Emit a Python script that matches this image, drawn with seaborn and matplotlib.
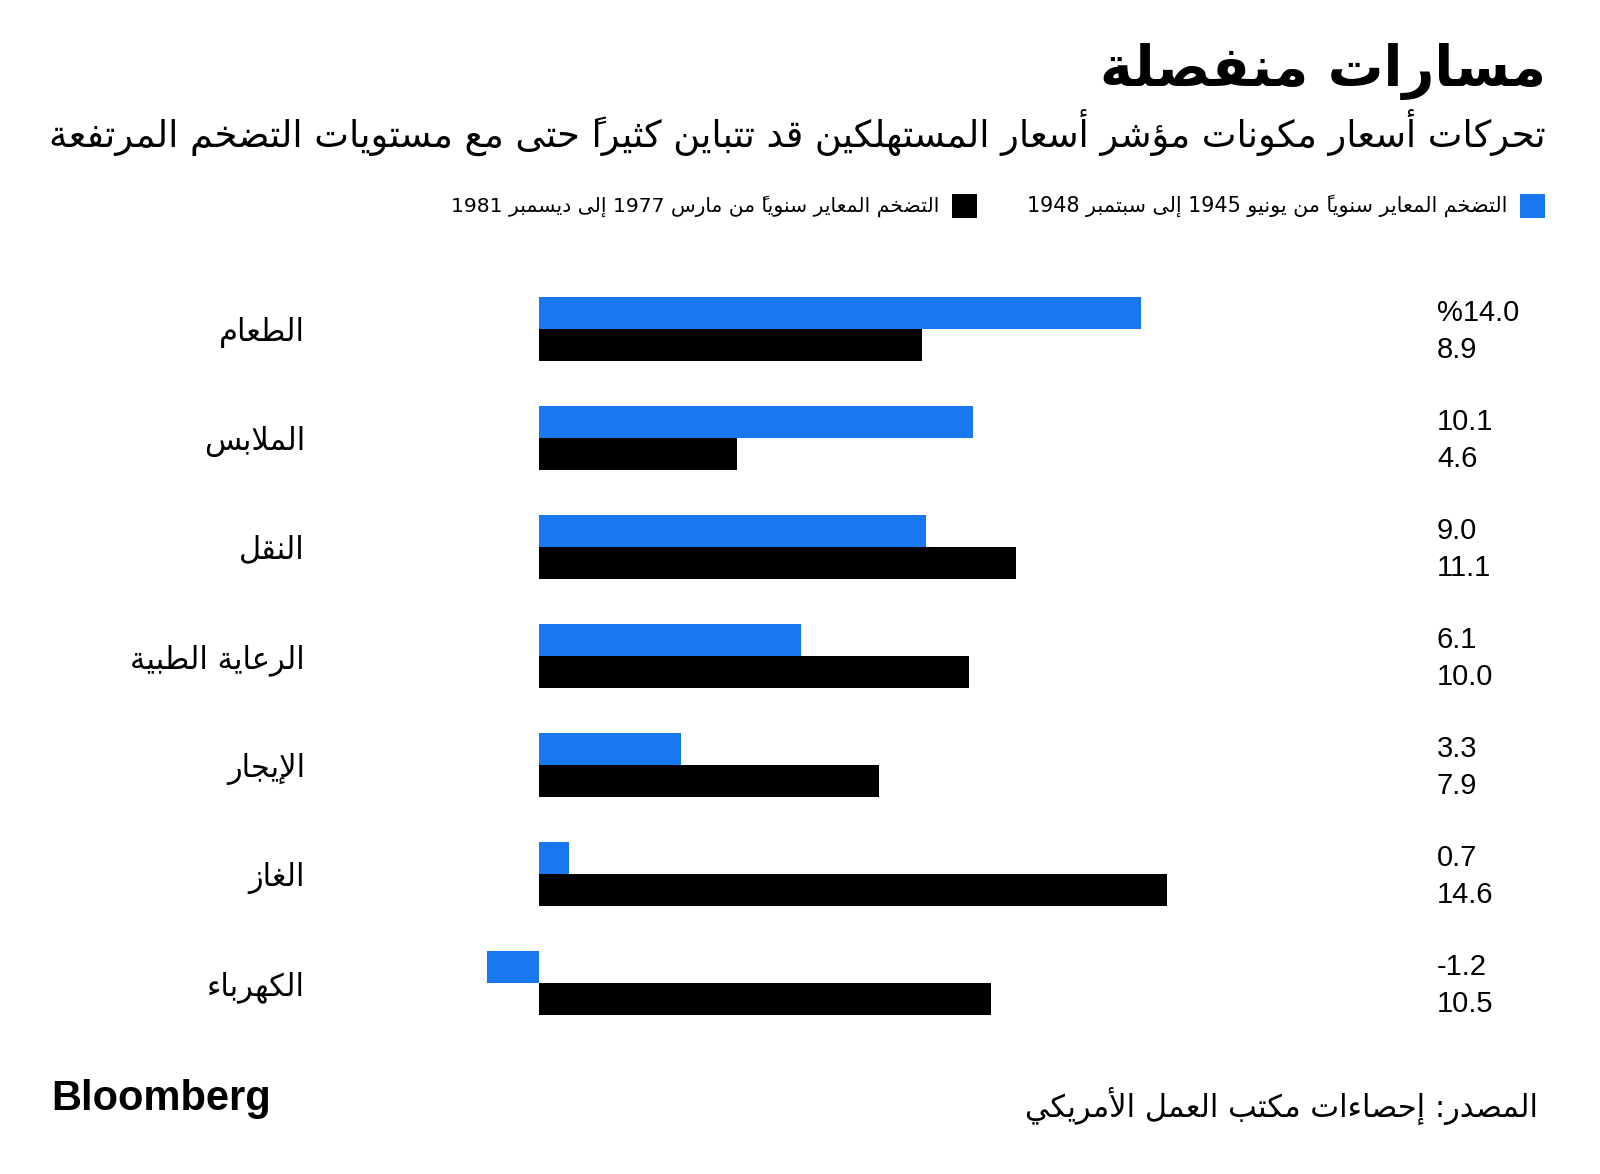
import matplotlib
matplotlib.use("Agg")
import matplotlib.pyplot as plt
import matplotlib.transforms as mtransforms
from matplotlib.patches import Rectangle
import pandas as pd
import seaborn as sns

# ---------------- data ----------------
categories = ["الطعام", "الملابس", "النقل", "الرعاية الطبية", "الإيجار", "الغاز", "الكهرباء"]
values_1945_1948 = [14.0, 10.1, 9.0, 6.1, 3.3, 0.7, -1.2]
values_1977_1981 = [8.9, 4.6, 11.1, 10.0, 7.9, 14.6, 10.5]
labels_1945_1948 = ["%14.0", "10.1", "9.0", "6.1", "3.3", "0.7", "-1.2"]
labels_1977_1981 = ["8.9", "4.6", "11.1", "10.0", "7.9", "14.6", "10.5"]
series_names = ["التضخم المعاير سنوياً من يونيو 1945 إلى سبتمبر 1948",
                "التضخم المعاير سنوياً من مارس 1977 إلى ديسمبر 1981"]
title_text = "مسارات منفصلة"
subtitle_text = "تحركات أسعار مكونات مؤشر أسعار المستهلكين قد تتباين كثيراً حتى مع مستويات التضخم المرتفعة"
source_text = "المصدر: إحصاءات مكتب العمل الأمريكي"
brand_text = "Bloomberg"

BLUE = "#1778F2"
BLACK = "#000000"

# ---------------- Arabic shaping (matplotlib has no complex text layout) ----------------
_AR_FORMS = {}
for _ch, _base, _n in [
        ("ء", 0xFE80, 1), ("آ", 0xFE81, 2), ("أ", 0xFE83, 2), ("ؤ", 0xFE85, 2),
        ("إ", 0xFE87, 2), ("ئ", 0xFE89, 4), ("ا", 0xFE8D, 2), ("ب", 0xFE8F, 4),
        ("ة", 0xFE93, 2), ("ت", 0xFE95, 4), ("ث", 0xFE99, 4), ("ج", 0xFE9D, 4),
        ("ح", 0xFEA1, 4), ("خ", 0xFEA5, 4), ("د", 0xFEA9, 2), ("ذ", 0xFEAB, 2),
        ("ر", 0xFEAD, 2), ("ز", 0xFEAF, 2), ("س", 0xFEB1, 4), ("ش", 0xFEB5, 4),
        ("ص", 0xFEB9, 4), ("ض", 0xFEBD, 4), ("ط", 0xFEC1, 4), ("ظ", 0xFEC5, 4),
        ("ع", 0xFEC9, 4), ("غ", 0xFECD, 4), ("ف", 0xFED1, 4), ("ق", 0xFED5, 4),
        ("ك", 0xFED9, 4), ("ل", 0xFEDD, 4), ("م", 0xFEE1, 4), ("ن", 0xFEE5, 4),
        ("ه", 0xFEE9, 4), ("و", 0xFEED, 2), ("ى", 0xFEEF, 2), ("ي", 0xFEF1, 4)]:
    _AR_FORMS[_ch] = (_base, _n)
_LAM_ALEF = {"آ": 0xFEF5, "أ": 0xFEF7, "إ": 0xFEF9, "ا": 0xFEFB}


def _is_mark(c):
    return "\u064B" <= c <= "\u0652" or c == "\u0670"


def _shape_word(w):
    items = []
    i = 0
    while i < len(w):
        c = w[i]
        if _is_mark(c) and items:
            items[-1][2].append(c)
            i += 1
            continue
        if c == "ل" and i + 1 < len(w) and w[i + 1] in _LAM_ALEF:
            items.append([c, "R", [], _LAM_ALEF[w[i + 1]]])
            i += 2
            continue
        if c in _AR_FORMS:
            base, n = _AR_FORMS[c]
            t = "D" if n == 4 else ("R" if n == 2 else "U")
            items.append([c, t, [], base])
        else:
            items.append([c, "U", [], None])
        i += 1
    out = []
    for k, (c, t, marks, base) in enumerate(items):
        prev_t = items[k - 1][1] if k > 0 else "U"
        next_t = items[k + 1][1] if k + 1 < len(items) else "U"
        jp = t in ("D", "R") and prev_t == "D"
        jn = t == "D" and next_t in ("D", "R")
        if base is None:
            g = c
        elif t == "D":
            g = chr(base + (3 if (jp and jn) else 1 if jp else 2 if jn else 0))
        elif t == "R":
            g = chr(base + (1 if jp else 0))
        else:
            g = chr(base)
        # zero-width marks are drawn over the glyph that follows them visually
        out.append("".join(marks) + g)
    return "".join(reversed(out))


def ar(text):
    res = []
    for tok in text.split(" "):
        if any("\u0600" <= c <= "\u06FF" for c in tok):
            res.append(_shape_word(tok))
        else:
            res.append(tok)
    return " ".join(reversed(res))


# ---------------- figure ----------------
sns.set_theme(style="white")
plt.rcParams["font.family"] = ["DejaVu Sans"]

W, H = 1600, 1174
fig = plt.figure(figsize=(W / 100, H / 100), dpi=100)
fig.patch.set_facecolor("white")


def fx(x):
    return x / W


def fy(y):
    return 1 - y / H


# axes: x from -2 to 16 (43 px/unit), y categories spaced 109 px
ax_left, ax_right = 453, 1227
ax_top, ax_bottom = 274.5, 1037.5
ax = fig.add_axes([fx(ax_left), fy(ax_bottom), (ax_right - ax_left) / W, (ax_bottom - ax_top) / H])

df = pd.DataFrame({
    "category": categories * 2,
    "series": [series_names[0]] * len(categories) + [series_names[1]] * len(categories),
    "value": values_1945_1948 + values_1977_1981,
})

sns.barplot(data=df, y="category", x="value", hue="series", order=categories,
            hue_order=series_names, palette=[BLUE, BLACK], orient="h",
            width=0.587, gap=0, saturation=1, legend=False, ax=ax, linewidth=0)

ax.set_xlim(-2, 16)
ax.set_ylim(len(categories) - 0.5, -0.5)
for s in ax.spines.values():
    s.set_visible(False)
ax.set_xticks([])
ax.set_xlabel("")
ax.set_ylabel("")
ax.set_yticks(range(len(categories)))
ax.set_yticklabels([ar(c) for c in categories], fontsize=22, color="black")
for lbl in ax.get_yticklabels():
    lbl.set_verticalalignment("center_baseline")
ax.tick_params(axis="y", length=0, pad=(ax_left - 305) * 0.72)
ax.set_facecolor("white")

# value labels on the right
trans = mtransforms.blended_transform_factory(fig.transFigure, ax.transData)
for container, labels in zip(ax.containers, [labels_1945_1948, labels_1977_1981]):
    for bar, lab in zip(container, labels):
        yc = bar.get_y() + bar.get_height() / 2
        yg = round(yc)
        ax.text(fx(1437), yg + 1.16 * (yc - yg) + 0.024, lab, transform=trans,
                ha="left", va="center", fontsize=21, family="Liberation Sans", color="black")

# title / subtitle
fig.text(fx(1546), fy(86), ar(title_text), ha="right", va="baseline",
         fontsize=40, fontweight="bold", color="black")
fig.text(fx(1546), fy(147), ar(subtitle_text), ha="right", va="baseline",
         fontsize=26.5, color="black")

# legend (right-to-left)
fig.add_artist(Rectangle((fx(1520), fy(218)), 25 / W, 24 / H, transform=fig.transFigure,
                         facecolor=BLUE, edgecolor="none"))
fig.text(fx(1507), fy(212), ar(series_names[0]), ha="right", va="baseline",
         fontsize=14.9, color="black")
fig.add_artist(Rectangle((fx(952), fy(218)), 25 / W, 24 / H, transform=fig.transFigure,
                         facecolor=BLACK, edgecolor="none"))
fig.text(fx(939), fy(212), ar(series_names[1]), ha="right", va="baseline",
         fontsize=14.6, color="black")

# footer
fig.text(fx(1538), fy(1117), ar(source_text), ha="right", va="baseline",
         fontsize=22, color="black")
fig.text(fx(51), fy(1110), brand_text, ha="left", va="baseline",
         fontsize=30, fontweight="bold", family="Liberation Sans", color="black")

fig.savefig("out.png", dpi=100, facecolor="white")
